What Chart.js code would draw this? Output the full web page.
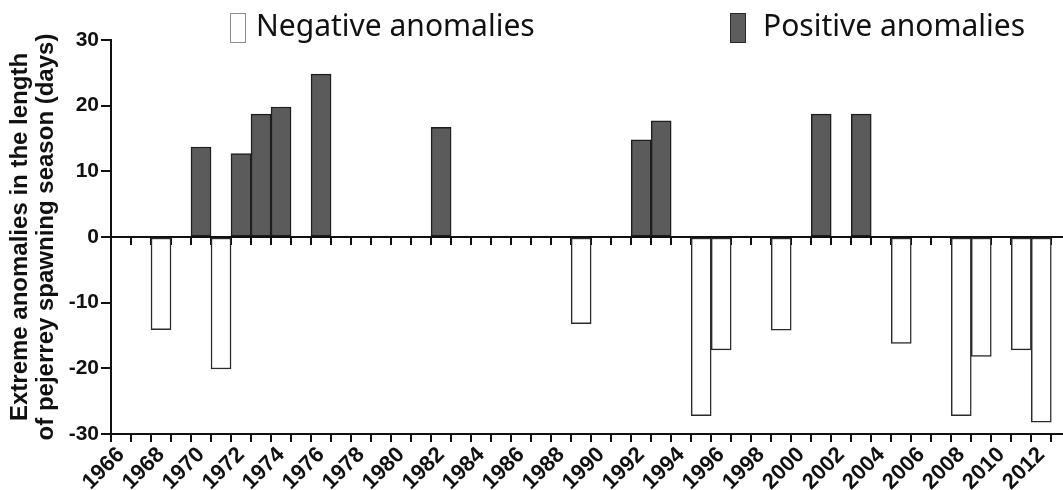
<!DOCTYPE html>
<html>
<head>
<meta charset="utf-8">
<script src="https://cdn.jsdelivr.net/npm/chart.js@4"></script>
<style>
  html, body { margin: 0; padding: 0; background: #fff; overflow: hidden; width: 1063px; height: 490px; }
  #wrap { position: absolute; left: 0; top: 0; width: 1080px; height: 490px; }
  canvas { position: absolute; left: 0; top: 0; }
  .leg { position: absolute; font-family: "Noto Sans", "Open Sans", sans-serif; font-size: 30px; color: #111; line-height: 1; white-space: nowrap; }
  .box { position: absolute; width: 14px; height: 28px; }
</style>
</head>
<body>
<div id="wrap">
  <canvas id="c" width="1080" height="490"></canvas>
  <div class="box" style="left:230px; top:13px; border:1.5px solid #8c8c8c; background:#fff;"></div>
  <div class="leg" style="left:256px; top:10px;">Negative anomalies</div>
  <div class="box" style="left:730px; top:13px; border:1.5px solid #2a2a2a; background:#5d5d5d;"></div>
  <div class="leg" style="left:763px; top:10px;">Positive anomalies</div>
</div>
<script>
// Categories (years)
const years = ['1966','1967','1968','1969','1970','1971','1972','1973','1974','1975','1976','1977','1978','1979','1980','1981','1982','1983','1984','1985','1986','1987','1988','1989','1990','1991','1992','1993','1994','1995','1996','1997','1998','1999','2000','2001','2002','2003','2004','2005','2006','2007','2008','2009','2010','2011','2012','2013'];

// Positive anomalies
const posYears  = ['1970','1972','1973','1974','1976','1982','1992','1993','2001','2003'];
const posValues = [13.7, 12.7, 18.7, 19.8, 24.8, 16.7, 14.8, 17.7, 18.7, 18.7];

// Negative anomalies
const negYears  = ['1968','1971','1989','1995','1996','1999','2005','2008','2009','2011','2012'];
const negValues = [-14.1, -20.1, -13.2, -27.2, -17.2, -14.2, -16.2, -27.2, -18.2, -17.2, -28.2];

// Y tick values
const yTicks = [-30, -20, -10, 0, 10, 20, 30];

const toSeries = (ys, vs) => years.map(y => { const i = ys.indexOf(y); return i >= 0 ? vs[i] : null; });

const FAM = '"Liberation Sans", Arial, sans-serif';

new Chart(document.getElementById('c'), {
  type: 'bar',
  data: {
    labels: years,
    datasets: [
      {
        label: 'Negative anomalies',
        data: toSeries(negYears, negValues),
        backgroundColor: '#ffffff',
        borderColor: '#2b2b2b',
        borderWidth: 1.5,
        borderSkipped: false,
        grouped: false,
        barPercentage: 1,
        categoryPercentage: 1
      },
      {
        label: 'Positive anomalies',
        data: toSeries(posYears, posValues),
        backgroundColor: '#5b5b5b',
        borderColor: '#1e1e1e',
        borderWidth: 1.5,
        borderSkipped: false,
        grouped: false,
        barPercentage: 1,
        categoryPercentage: 1
      }
    ]
  },
  options: {
    responsive: false,
    animation: false,
    layout: { padding: { top: 40, right: 3, left: 0, bottom: 0 } },
    plugins: { legend: { display: false }, tooltip: { enabled: false } },
    scales: {
      x: {
        type: 'category',
        position: 'bottom',
        offset: true,
        grid: { offset: true, drawOnChartArea: false, drawTicks: true, tickLength: 8, color: '#111', lineWidth: 2 },
        border: { display: true, color: '#111', width: 2 },
        ticks: {
          autoSkip: false,
          maxRotation: 45,
          minRotation: 45,
          padding: 0,
          color: '#111',
          font: { family: FAM, weight: 'bold', size: 22 },
          callback: function(v, i) { const y = years[i]; return (parseInt(y) % 2 === 0) ? y : ''; }
        },
        afterFit: function(s) { s.height = 56; }
      },
      x0: {
        type: 'category',
        position: { y: 0 },
        offset: true,
        z: 1,
        grid: { offset: true, drawOnChartArea: false, drawTicks: true, tickLength: 7, color: '#111', lineWidth: 2 },
        border: { display: true, color: '#111', width: 2 },
        ticks: { display: false, autoSkip: false }
      },
      y: {
        min: -30,
        max: 30,
        afterBuildTicks: function(s) { s.ticks = yTicks.map(v => ({ value: v })); },
        grid: { drawOnChartArea: false, drawTicks: true, tickLength: 10, color: '#111', lineWidth: 2 },
        border: { display: true, color: '#111', width: 2 },
        ticks: { color: '#111', font: { family: FAM, weight: 'bold', size: 21 }, padding: 2 },
        title: {
          display: true,
          text: ['Extreme anomalies in the length', 'of pejerrey spawning season (days)'],
          color: '#111',
          font: { family: FAM, weight: 'bold', size: 24, lineHeight: 1.12 },
          padding: { top: 6.5, bottom: 0 }
        },
        afterFit: function(s) { s.width = 111; }
      }
    }
  }
});
</script>
</body>
</html>
